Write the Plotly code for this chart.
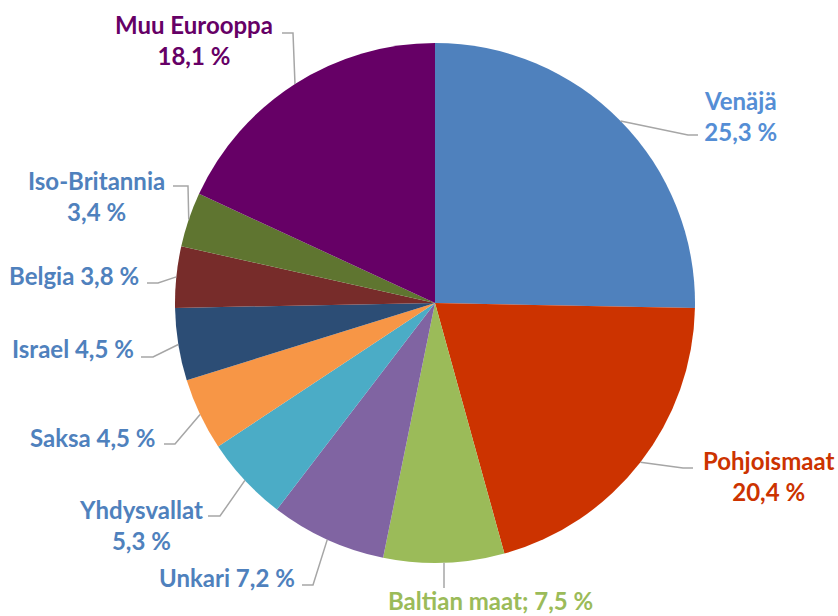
import math
import plotly.graph_objects as go

# ---- data ----
countries = ["Venäjä", "Pohjoismaat", "Baltian maat", "Unkari", "Yhdysvallat",
             "Saksa", "Israel", "Belgia", "Iso-Britannia", "Muu Eurooppa"]
shares = [25.3, 20.4, 7.5, 7.2, 5.3, 4.5, 4.5, 3.8, 3.4, 18.1]
slice_colors = ["#4F81BD", "#CC3300", "#9BBB59", "#8064A2", "#4BACC6",
                "#F79646", "#2C4D75", "#772C2A", "#5F7530", "#660066"]

# label text styles / layout (pixels in an 838x616 canvas)
W, H = 838, 616
CX, CY, R = 435, 303, 260

label_colors = ["#558ED5", "#CC3300", "#9BBB59", "#4F81BD", "#4F81BD",
                "#4F81BD", "#4F81BD", "#4F81BD", "#4F81BD", "#660066"]
label_fmt = ["{n}<br>{v} %", "{n}<br>{v} %", "{n}; {v} %", "{n} {v} %", "{n}<br>{v} %",
             "{n} {v} %", "{n} {v} %", "{n} {v} %", "{n}<br>{v} %", "{n}<br>{v} %"]
# text anchor (x, y, xanchor)
label_pos = [(740, 116, "center"), (768, 476, "center"), (490, 600, "center"),
             (297, 577, "right"), (141, 525, "center"), (158, 437, "right"),
             (136, 348, "right"), (141, 275, "right"), (96, 196, "center"),
             (194, 40, "center")]
# leader line: elbow and end points
leader_pts = [[(688, 135), (698, 135)], [(683, 468), (693, 468)], [(444, 588)],
              [(313, 585), (302, 585)], [(220, 516), (208, 516)],
              [(175, 444), (164, 444)], [(153, 357), (141, 357)],
              [(158, 283), (147, 283)], [(188, 186), (173, 186)],
              [(293, 33), (282, 33)]]

def px(x):
    return x / W

def py(y):
    return 1 - y / H

fig = go.Figure(go.Pie(
    labels=countries, values=shares, sort=False, direction="clockwise", rotation=0,
    marker=dict(colors=slice_colors, line=dict(width=0)),
    textinfo="none", hoverinfo="label+percent", showlegend=False,
    domain=dict(x=[px(CX - R), px(CX + R)], y=[py(CY + R), py(CY - R)]),
))

total = sum(shares)
cum = 0.0
annotations = []
shapes = []
for i, (name, v) in enumerate(zip(countries, shares)):
    mid = (cum + v / 2) / total * 2 * math.pi
    cum += v
    ex = CX + R * math.sin(mid)
    ey = CY - R * math.cos(mid)
    pts = [(ex, ey)] + leader_pts[i]
    path = "M " + " L ".join(f"{px(a):.5f},{py(b):.5f}" for a, b in pts)
    shapes.append(dict(type="path", path=path, xref="paper", yref="paper",
                       line=dict(color="#A6A6A6", width=1.5)))
    vs = f"{v:.1f}".replace(".", ",")
    x, y, xa = label_pos[i]
    annotations.append(dict(
        text=label_fmt[i].format(n=name, v=vs), x=px(x), y=py(y),
        xref="paper", yref="paper", xanchor=xa, yanchor="middle",
        showarrow=False, align="center",
        font=dict(family="Lato", size=24, color=label_colors[i], weight="bold"),
    ))

fig.update_layout(
    width=W, height=H, margin=dict(l=0, r=0, t=0, b=0),
    paper_bgcolor="white", plot_bgcolor="white",
    annotations=annotations, shapes=shapes,
)
fig.write_html("out.html", config={"displayModeBar": False},
               post_script="document.body.style.margin='0';document.body.style.overflow='hidden';")
